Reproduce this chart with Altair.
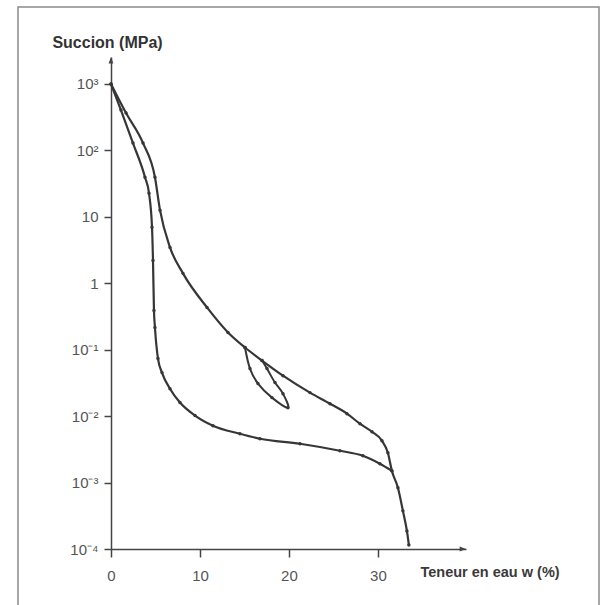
import altair as alt
import pandas as pd

# ---- data ----
upper_w = [0.0, 1.69, 3.60, 4.94, 5.51, 6.63, 8.09, 10.79, 13.15, 15.06, 16.97, 19.33,
           22.36, 24.61, 26.52, 27.98, 29.33, 30.45, 31.12, 31.57, 32.25, 32.81, 33.26, 33.48]
upper_s = [1000, 365, 129, 39.5, 12.6, 3.47, 1.41, 0.433, 0.182, 0.108, 0.0687, 0.0407,
           0.0226, 0.0154, 0.0109, 0.00769, 0.00582, 0.00427, 0.00281, 0.00150, 0.000833,
           0.000375, 0.000187, 0.000115]

lower_w = [0.0, 1.12, 2.47, 3.82, 4.27, 4.61, 4.72, 4.83, 4.94, 5.28, 5.73, 6.63, 7.75,
           9.44, 11.46, 14.49, 16.74, 21.24, 25.73, 28.31, 30.22, 31.57]
lower_s = [1000, 405, 129, 39.5, 22.7, 6.97, 2.21, 0.390, 0.216, 0.0736, 0.0452, 0.0259,
           0.0160, 0.0102, 0.00718, 0.00543, 0.00457, 0.00384, 0.00301, 0.00253, 0.00192,
           0.00150]

loop_w = [15.06, 15.62, 16.52, 18.09, 19.89, 19.33, 18.43, 17.53, 16.97]
loop_s = [0.108, 0.0520, 0.0309, 0.0190, 0.0134, 0.0218, 0.0320, 0.0520, 0.0687]

x_ticks = [0, 10, 20, 30]
y_ticks = [1000, 100, 10, 1, 0.1, 0.01, 0.001, 0.0001]
y_tick_labels = ["10³", "10²", "10", "1", "10⁻¹", "10⁻²", "10⁻³", "10⁻⁴"]

X_MAX = 39.9
Y_MIN = 1e-4
Y_MAX = 2548

rows = []
for name, ws, ss in [("upper", upper_w, upper_s), ("lower", lower_w, lower_s), ("loop", loop_w, loop_s)]:
    for i, (w, s) in enumerate(zip(ws, ss)):
        rows.append({"w": w, "s": s, "series": name, "idx": i})
df = pd.DataFrame(rows)

FONT = "Liberation Sans"
LINE = "#363636"
AXC = "#444444"

label_expr = ""
for v, lab in zip(y_ticks, y_tick_labels):
    label_expr += f"datum.value == {v} ? '{lab}' : "
label_expr += "''"

x_scale = alt.Scale(domain=[0, X_MAX], nice=False, zero=False)
y_scale = alt.Scale(type="log", domain=[Y_MIN, Y_MAX], nice=False)

x_axis = alt.Axis(values=x_ticks, title="Teneur en eau w (%)", titleX=309, titleY=23,
                  titleAlign="left", titleBaseline="middle", titleAngle=0,
                  titleFontSize=14.5, titleFontWeight="bold", titleColor="#3a3a3a", titleFont=FONT,
                  labelFont=FONT, labelFontSize=15, labelColor="#555555", tickSize=8,
                  labelPadding=11, grid=False, domainColor=AXC, domainWidth=1.5,
                  tickColor=AXC, tickWidth=1.5, labelFlush=False, labelOverlap=False)
y_axis = alt.Axis(values=y_ticks, labelExpr=label_expr, title="Succion (MPa)",
                  titleX=-4, titleY=-15, titleAlign="center", titleBaseline="middle",
                  titleAngle=0, titleFontSize=16, titleFontWeight="bold", titleColor="#333333",
                  titleFont=FONT, labelFont=FONT, labelFontSize=15, labelColor="#555555",
                  tickSize=7, labelPadding=6, grid=False, domainColor=AXC, domainWidth=1.5,
                  tickColor=AXC, tickWidth=1.5, labelFlush=False, labelOverlap=False,
                  labelBaseline="middle")

main = alt.Chart(df).transform_filter(alt.datum.series != "loop")
loop = alt.Chart(df).transform_filter(alt.datum.series == "loop")

lines = main.mark_line(color=LINE, strokeWidth=2.2, interpolate="monotone").encode(
    x=alt.X("w:Q", scale=x_scale, axis=x_axis),
    y=alt.Y("s:Q", scale=y_scale, axis=y_axis),
    detail="series:N",
    order="idx:Q",
)

loop_line = loop.mark_line(color=LINE, strokeWidth=2, interpolate="cardinal").encode(
    x=alt.X("w:Q", scale=x_scale),
    y=alt.Y("s:Q", scale=y_scale),
    order="idx:Q",
)

points = alt.Chart(df).mark_point(filled=True, color=LINE, size=12, opacity=1).encode(
    x=alt.X("w:Q", scale=x_scale),
    y=alt.Y("s:Q", scale=y_scale),
)

arrow_up = alt.Chart(pd.DataFrame({"w": [0], "s": [Y_MAX]})).mark_point(
    shape="M0,0L-0.6,1.6L0.6,1.6Z", filled=True, size=64, color=AXC, opacity=1
).encode(x=alt.X("w:Q", scale=x_scale), y=alt.Y("s:Q", scale=y_scale))

arrow_right = alt.Chart(pd.DataFrame({"w": [X_MAX], "s": [Y_MIN]})).mark_point(
    shape="M0,0L-1.6,-0.6L-1.6,0.6Z", filled=True, size=64, color=AXC, opacity=1
).encode(x=alt.X("w:Q", scale=x_scale), y=alt.Y("s:Q", scale=y_scale))

frame = alt.Chart(pd.DataFrame({"k": [0]})).mark_rect(
    fillOpacity=0, stroke="#8a8a8a", strokeWidth=1.5
).encode(x=alt.value(-93), x2=alt.value(488), y=alt.value(-50), y2=alt.value(620))

chart = alt.layer(frame, lines, loop_line, points, arrow_up, arrow_right).properties(
    width=355, height=492,
    padding={"left": 111, "top": 57, "right": 143, "bottom": 56},
    autosize=alt.AutoSizeParams(type="none"),
    background="white",
).configure_view(stroke=None)

chart.save("out.html", embed_options={"renderer": "svg", "actions": False})
